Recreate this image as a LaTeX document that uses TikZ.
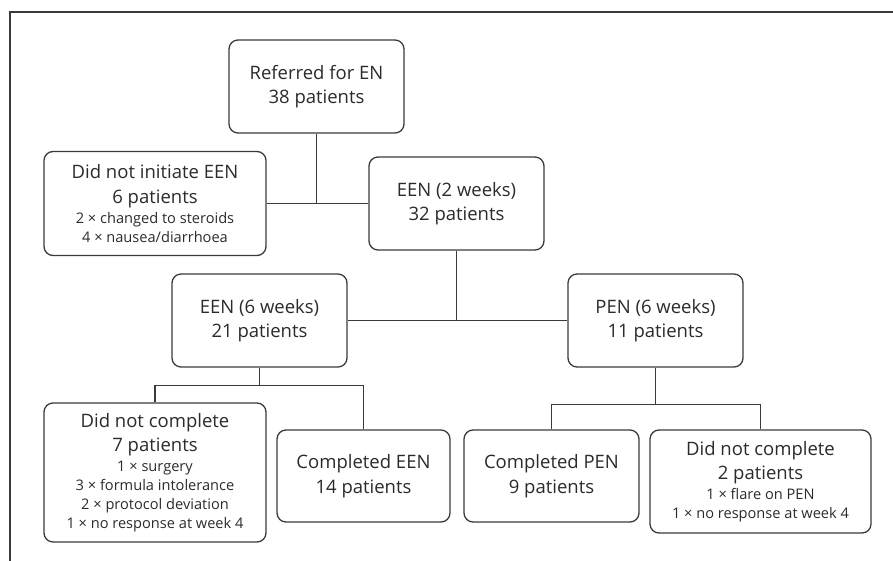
\documentclass[tikz,border=0pt]{standalone}
\usepackage{fontspec}
\setmainfont{Open Sans}
\usetikzlibrary{calc}
\definecolor{ink}{HTML}{2B2B2B}
\definecolor{edge}{HTML}{3A3A3A}
\newcommand{\sm}{\fontsize{14.6}{19}\selectfont}
\begin{document}
\begin{tikzpicture}[x=1pt,y=-1pt,
  box/.style={draw=edge,line width=1.3pt,rounded corners=9pt,align=center,
    inner sep=0pt,text=ink,font=\fontsize{18.5}{24.5}\selectfont},
  link/.style={draw=edge,line width=1.3pt},
  frameline/.style={draw=edge,line width=1.2pt}]
\useasboundingbox (0,0) rectangle (893,561);
\draw[frameline] (10,561) -- (10,12) -- (893,12);
\node[box,minimum width=175pt,minimum height=93pt] (ref) at (316.5,86.5) {Referred for EN\\38 patients};
\node[box,minimum width=222pt,minimum height=104pt] (dni) at (155,203.5) {Did not initiate EEN\\6 patients\\[-4.5pt]{\sm 2 × changed to steroids}\\[-5.5pt]{\sm 4 × nausea/diarrhoea}};
\node[box,minimum width=175pt,minimum height=93pt] (een2) at (456.5,203.5) {EEN (2 weeks)\\32 patients};
\node[box,minimum width=175pt,minimum height=93pt] (een6) at (259.5,320.5) {EEN (6 weeks)\\21 patients};
\node[box,minimum width=175pt,minimum height=93pt] (pen) at (655.5,320.5) {PEN (6 weeks)\\11 patients};
\node[box,minimum width=222pt,minimum height=139pt] (dncL) at (155,472.5) {Did not complete\\7 patients\\[-4.5pt]{\sm 1 × surgery}\\[-5.5pt]{\sm 3 × formula intolerance}\\[-5.5pt]{\sm 2 × protocol deviation}\\[-5.5pt]{\sm 1 × no response at week 4}};
\node[box,minimum width=173pt,minimum height=92pt] (cEEN) at (363.5,476) {Completed EEN\\14 patients};
\node[box,minimum width=175pt,minimum height=92pt] (cPEN) at (551.5,476) {Completed PEN\\9 patients};
\node[box,minimum width=221pt,minimum height=103pt] (dncR) at (760.5,481.5) {Did not complete\\2 patients\\[-4.5pt]{\sm 1 × flare on PEN}\\[-5.5pt]{\sm 1 × no response at week 4}};
\coordinate (j1) at ($(een6.south)+(0,18)$);
\coordinate (j2) at ($(pen.south)+(0,37)$);
\draw[link] (ref.south) -- (ref.south |- dni.east);
\draw[link] (dni.east) -- (een2.west);
\draw[link] (een2.south) -- (een2.south |- een6.east);
\draw[link] (een6.east) -- (pen.west);
\draw[link] (een6.south) -- (j1);
\draw[link] (dncL.north) |- (j1) -| (cEEN.north);
\draw[link] (pen.south) -- (j2);
\draw[link] (cPEN.north) |- (j2) -| (dncR.north);
\end{tikzpicture}
\end{document}
